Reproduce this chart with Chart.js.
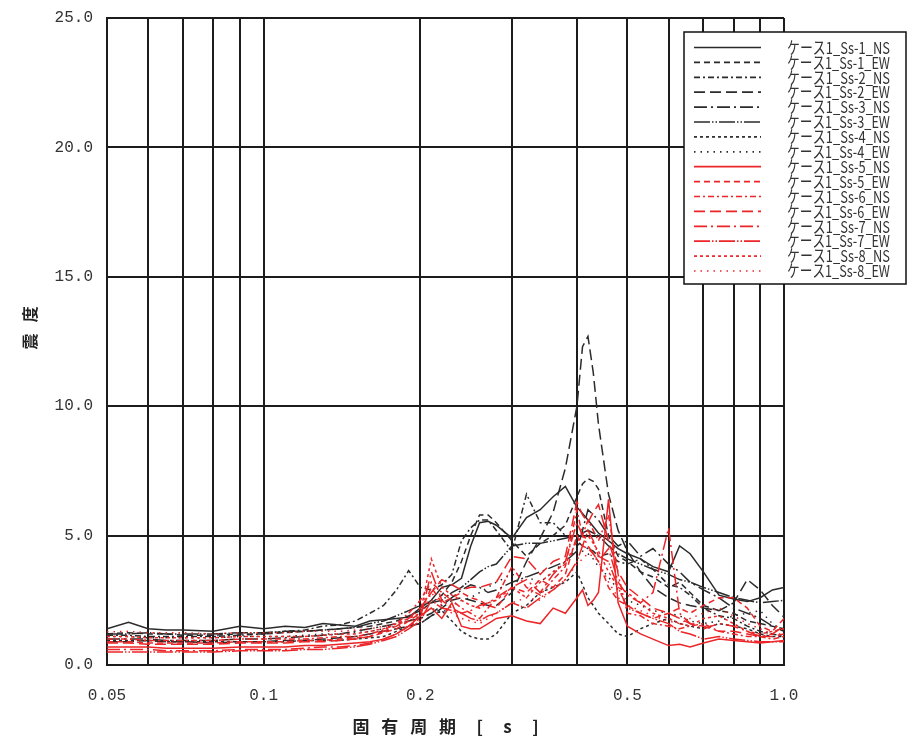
<!DOCTYPE html>
<html lang="ja">
<head>
<meta charset="UTF-8">
<title>震度 - 固有周期</title>
<script src="https://cdn.jsdelivr.net/npm/chart.js@4.4.1"></script>
<style>
  html,body{margin:0;background:#fff;}
  #wrap{width:908px;height:747px;}
</style>
</head>
<body>
<div id="wrap"><canvas id="c" width="908" height="747"></canvas></div>
<script>
// natural period [s]
const periods=[0.05,0.055,0.06,0.065,0.07,0.08,0.09,0.1,0.11,0.12,0.13,0.14,0.15,
  0.16,0.17,0.18,0.19,0.2,0.21,0.22,0.23,0.24,0.25,0.26,0.27,0.28,
  0.3,0.32,0.34,0.36,0.38,0.4,0.41,0.42,0.43,0.44,0.46,0.48,
  0.5,0.53,0.56,0.6,0.63,0.66,0.7,0.75,0.8,0.85,0.9,0.95,1.0];

// vertical grid lines and labelled ticks on the log axis
const xGrid=[0.05,0.06,0.07,0.08,0.09,0.1,0.2,0.3,0.4,0.5,0.6,0.7,0.8,0.9,1.0];
const xTickVals=[0.05,0.1,0.2,0.5,1.0];
const xTickText=['0.05','0.1','0.2','0.5','1.0'];

// 震度 per case / wave
const ss1NS=[1.4,1.65,1.4,1.35,1.35,1.3,1.5,1.4,1.5,1.45,1.6,1.55,1.5, 1.7,1.75,1.8,1.85, 2.2,2.5,3.0,3.1,3.35,4.6,5.5,5.55,5.4, 4.9,5.7,6.0,6.5,6.9, 6.1,5.85,5.6,5.35,5.1,4.8,4.5, 4.3,4.1,3.8,3.6,4.6, 4.3,3.6,2.7,2.55,2.45, 2.6,2.9,3.0];
const ss1EW=[1.2,1.25,1.2,1.2,1.15,1.15,1.2,1.2,1.25,1.3,1.35,1.4,1.45, 1.5,1.6,1.7,1.9, 2.1,2.4,2.7,3.2,4.0,5.0,5.8,5.8,5.5, 4.8,4.2,4.7,5.0,5.4, 6.5,7.0,7.2,7.1,6.8,5.0,4.2, 4.0,3.6,3.4,3.0,3.2, 2.8,2.3,2.1,2.0,1.7, 1.6,1.5,1.4];
const ss2NS=[1.15,1.15,1.1,1.1,1.1,1.1,1.15,1.2,1.3,1.35,1.5,1.55,1.7, 2.0,2.3,2.9,3.65, 3.0,2.9,3.1,3.5,4.8,5.3,5.6,5.6,5.2, 4.4,6.6,5.5,5.5,5.0, 4.8,4.6,4.5,4.4,4.2,4.3,4.0, 3.9,4.1,3.7,3.1,3.0, 2.7,2.2,1.9,1.8,1.5, 1.3,1.2,1.1];
const ss2EW=[0.9,0.9,0.95,0.9,0.9,0.85,0.9,0.9,0.95,0.95,1.0,1.05,1.1, 1.2,1.3,1.4,1.5, 1.6,1.9,2.2,2.5,2.6,2.5,2.4,2.3,2.3, 2.8,4.0,4.9,5.9,7.6, 10.0,12.3,12.7,11.3,9.3,6.6,5.2, 4.4,3.6,3.0,2.6,2.4, 2.3,2.2,2.1,2.4,3.3, 2.9,2.3,1.85];
const ss3NS=[1.0,1.0,1.0,0.95,0.95,0.95,1.0,1.0,1.05,1.1,1.15,1.2,1.3, 1.4,1.5,1.6,1.7, 1.8,2.0,2.3,2.6,2.9,3.1,3.0,2.8,2.9, 3.2,3.4,3.6,3.8,4.0, 4.4,5.2,6.0,5.8,5.6,5.0,4.6, 4.8,4.2,4.5,3.9,3.6, 3.2,2.9,2.6,2.2,2.0, 1.8,1.5,1.3];
const ss3EW=[1.2,1.2,1.25,1.2,1.2,1.2,1.25,1.25,1.3,1.3,1.35,1.4,1.45, 1.6,1.7,1.9,2.1, 2.3,2.4,2.5,2.8,3.0,3.3,3.6,3.8,3.9, 4.6,4.7,4.7,4.8,4.9, 5.0,5.1,5.2,5.1,5.0,4.6,4.3, 4.1,3.9,3.7,3.5,3.3, 3.2,3.0,2.8,2.6,2.5, 2.4,2.45,2.5];
const ss4NS=[0.95,0.95,0.95,0.9,0.9,0.9,0.9,0.9,0.9,0.95,0.95,0.95,1.0, 1.05,1.1,1.3,1.5, 1.6,1.9,2.1,1.7,1.3,1.1,1.0,1.0,1.2, 2.0,2.3,2.8,3.0,3.2, 3.6,3.1,2.6,2.3,2.0,1.6,1.2, 1.1,1.4,1.6,1.8,1.6, 1.5,1.4,1.6,1.5,1.4, 1.2,1.1,1.1];
const ss4EW=[1.1,1.1,1.05,1.05,1.05,1.05,1.1,1.1,1.1,1.15,1.2,1.2,1.25, 1.3,1.4,1.5,1.7, 1.9,2.2,2.0,2.3,2.5,2.6,2.8,3.0,3.2, 3.5,3.4,3.2,3.6,4.0, 4.5,4.4,4.3,4.1,3.8,3.4,2.9, 2.5,2.3,2.1,2.0,1.9, 1.7,1.6,1.7,1.9,2.0, 2.1,1.6,1.3];
const ss5NS=[0.7,0.7,0.7,0.65,0.65,0.65,0.7,0.7,0.7,0.75,0.75,0.8,0.85, 0.9,1.0,1.2,1.5, 1.9,2.2,1.8,2.4,1.5,1.4,1.4,1.6,1.8, 1.9,1.7,1.6,2.2,2.0, 2.6,2.9,2.3,2.5,2.8,6.4,2.4, 1.5,1.2,1.0,0.75,0.8, 0.7,0.85,1.0,0.95,0.9, 0.85,0.9,0.95];
const ss5EW=[0.9,0.9,0.85,0.85,0.85,0.85,0.9,0.9,0.9,0.95,0.95,1.0,1.05, 1.1,1.25,1.4,1.7, 2.0,3.0,2.4,2.6,2.8,2.6,2.5,2.3,2.2, 3.0,2.8,3.3,3.0,3.5, 5.0,4.6,4.5,4.3,4.0,3.0,2.5, 2.3,2.0,1.8,2.0,2.2, 2.0,2.3,2.6,2.6,2.2, 1.5,1.3,1.8];
const ss6NS=[1.0,1.0,0.95,0.95,0.95,0.95,1.0,1.0,1.0,1.0,1.05,1.1,1.1, 1.2,1.35,1.6,2.0, 2.5,3.2,2.8,2.5,2.2,2.0,1.8,2.2,2.6, 3.8,3.0,2.7,3.3,3.8, 6.0,5.0,5.6,5.2,4.8,5.8,3.5, 2.0,1.9,1.6,1.5,1.4, 1.5,1.6,1.3,1.2,1.1, 1.1,1.0,1.1];
const ss6EW=[0.85,0.85,0.8,0.8,0.8,0.8,0.85,0.85,0.85,0.9,0.9,0.95,1.0, 1.1,1.3,1.5,1.8, 2.2,2.8,3.3,3.1,2.9,3.0,3.0,3.1,3.2, 4.2,4.1,3.5,4.0,4.2, 6.3,5.8,5.5,5.9,6.2,4.8,3.6, 3.0,2.6,2.2,2.0,1.8, 1.6,1.5,1.3,1.3,1.2, 1.1,1.1,1.2];
const ss7NS=[0.6,0.6,0.6,0.55,0.55,0.55,0.6,0.6,0.6,0.65,0.7,0.7,0.75, 0.85,1.0,1.2,1.5, 1.8,3.6,2.5,2.2,2.0,2.1,2.3,2.4,2.6, 3.0,3.3,2.8,3.5,4.0, 5.5,5.0,4.6,4.3,4.0,4.5,3.2, 2.7,2.4,2.8,5.3,2.0, 1.6,1.4,1.6,1.5,1.3, 1.1,1.2,1.5];
const ss7EW=[0.5,0.5,0.5,0.5,0.5,0.5,0.55,0.55,0.55,0.6,0.6,0.65,0.7, 0.8,0.95,1.1,1.4, 1.7,2.5,2.2,2.1,2.0,1.8,1.7,1.9,2.0, 2.4,2.2,2.6,2.9,3.3, 4.0,4.6,5.2,4.8,4.2,4.0,3.0, 2.2,2.0,1.8,1.6,1.3, 1.2,1.0,1.1,1.0,0.95, 0.9,0.9,0.9];
const ss8NS=[1.1,1.1,1.05,1.05,1.05,1.05,1.1,1.1,1.1,1.1,1.15,1.2,1.2, 1.3,1.4,1.6,1.8, 2.0,4.1,3.0,2.7,2.5,2.3,2.2,2.4,2.5, 3.0,2.6,3.2,3.6,3.9, 4.8,4.9,5.0,4.7,4.4,3.6,3.0, 2.8,2.4,2.0,1.8,1.6, 1.5,1.8,1.9,1.6,1.3, 1.2,1.3,1.4];
const ss8EW=[1.28,1.3,1.25,1.25,1.25,1.2,1.25,1.25,1.25,1.3,1.3,1.3,1.35, 1.4,1.5,1.6,1.7, 1.8,2.8,2.3,2.0,1.8,1.7,1.6,1.8,2.0, 2.4,2.6,2.5,2.9,3.3, 3.9,4.1,4.3,4.2,4.0,3.2,2.6, 2.3,2.1,1.9,1.7,1.6, 1.8,2.0,2.2,1.9,1.6, 1.4,1.2,1.2];

const seriesNames=['ケース1_Ss-1_NS','ケース1_Ss-1_EW','ケース1_Ss-2_NS','ケース1_Ss-2_EW',
  'ケース1_Ss-3_NS','ケース1_Ss-3_EW','ケース1_Ss-4_NS','ケース1_Ss-4_EW',
  'ケース1_Ss-5_NS','ケース1_Ss-5_EW','ケース1_Ss-6_NS','ケース1_Ss-6_EW',
  'ケース1_Ss-7_NS','ケース1_Ss-7_EW','ケース1_Ss-8_NS','ケース1_Ss-8_EW'];
const seriesValues=[ss1NS,ss1EW,ss2NS,ss2EW,ss3NS,ss3EW,ss4NS,ss4EW,ss5NS,ss5EW,ss6NS,ss6EW,ss7NS,ss7EW,ss8NS,ss8EW];

// line styles, same order repeats for black (Ss-1..4) and red (Ss-5..8)
const dashes=[[],[6,4],[6,3,2,3],[11,5],[13,4,2,4],[16,2,1.5,2,1.5,2],[3,3],[1.5,5]];
const BLACK='#2b2b2b', RED='#ec2528';

const datasets=seriesValues.map((vals,i)=>({
  label:seriesNames[i],
  data:periods.map((p,j)=>({x:p,y:vals[j]})),
  borderColor:i<8?BLACK:RED,
  borderDash:dashes[i%8],
  borderWidth:1.5,
  pointRadius:0,
  tension:0,
  fill:false,
  order:i<8?2:1
}));

// legend drawn inside the plot, top right
const legendBox={
  id:'legendBox',
  afterDraw(chart){
    const ctx=chart.ctx;
    ctx.save();
    ctx.setLineDash([]);
    ctx.fillStyle='#fff';ctx.strokeStyle='#111';ctx.lineWidth=1.5;
    ctx.fillRect(684,32,222,252);ctx.strokeRect(684,32,222,252);
    ctx.font='15px "Noto Sans CJK JP"';
    ctx.textBaseline='middle';
    chart.data.datasets.forEach((ds,i)=>{
      const y=47.5+i*14.9;
      ctx.strokeStyle=ds.borderColor;ctx.lineWidth=1.7;ctx.setLineDash(ds.borderDash);
      ctx.beginPath();ctx.moveTo(694,y);ctx.lineTo(761,y);ctx.stroke();
      ctx.setLineDash([]);
      const w=ctx.measureText(ds.label).width;
      ctx.save();ctx.translate(787,y);ctx.scale(103/w,1.1);
      ctx.fillStyle='#333';ctx.fillText(ds.label,0,0);ctx.restore();
    });
    ctx.restore();
  }
};

const gridCol='#1c1c1c';
new Chart(document.getElementById('c'),{
  type:'line',
  data:{datasets},
  options:{
    responsive:false,animation:false,
    layout:{padding:{left:0,right:124,top:18,bottom:0}},
    plugins:{legend:{display:false},tooltip:{enabled:false}},
    scales:{
      x:{
        type:'logarithmic',min:0.05,max:1.0,
        afterBuildTicks:s=>{s.ticks=xGrid.map(v=>({value:v}));},
        afterFit:s=>{s.height=82;s.paddingLeft=0;s.paddingRight=0;s.paddingTop=0;s.paddingBottom=0;},
        grid:{color:gridCol,lineWidth:2,drawTicks:false},
        border:{color:gridCol,width:2},
        ticks:{autoSkip:false,maxRotation:0,padding:21,color:'#333',
          font:{family:'"Liberation Mono"',size:16},
          callback:v=>{const k=xTickVals.findIndex(t=>Math.abs(t-v)<1e-9);return k<0?'':xTickText[k];}},
        title:{display:true,text:'固\u2002\u2009有\u2002\u2009周\u2002\u2009期\u2003\u2009[\u2003\u2009s\u2003\u2009]',
          color:'#222',font:{family:'"Noto Sans CJK JP"',size:17,weight:'bold'},padding:{top:0,bottom:10}}
      },
      y:{
        min:0,max:25,
        afterFit:s=>{s.width=107;s.paddingTop=0;s.paddingBottom=0;s.paddingLeft=0;s.paddingRight=0;},
        grid:{color:gridCol,lineWidth:2,drawTicks:false},
        border:{color:gridCol,width:2},
        ticks:{stepSize:5,padding:14,color:'#333',
          font:{family:'"Liberation Mono"',size:16},
          callback:v=>v.toFixed(1)},
        title:{display:true,text:'\u2003\u2002\u2009震\u2002\u2009度',color:'#222',
          font:{family:'"Noto Sans CJK JP"',size:16,weight:'bold'},padding:{top:20,bottom:0}}
      }
    }
  },
  plugins:[legendBox]
});
</script>
</body>
</html>
